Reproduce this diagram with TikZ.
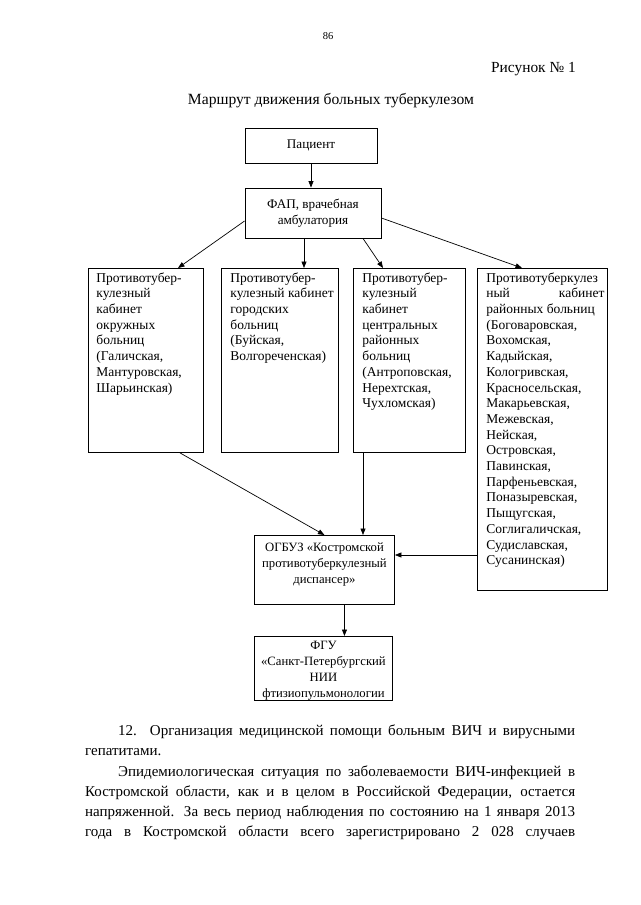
\documentclass[tikz,border=0pt]{standalone}
\usepackage{fontspec}
\setmainfont{Liberation Serif}
\usetikzlibrary{arrows.meta,calc}
\newcommand\celltext[5]{\makebox[#1][l]{\hspace*{#2}\parbox[t][#3][t]{#4}{\raggedright #5}}}
\tikzset{
  cell/.style={draw, line width=0.9pt, inner xsep=0pt, inner ysep=4pt, anchor=north west,
               font=\fontsize{13.5}{15.7}\selectfont},
  lowcell/.style={cell, font=\fontsize{12.7}{16}\selectfont},
  cbox/.style={draw, line width=0.9pt, align=center, inner sep=0pt,
               font=\fontsize{13.2}{15.7}\selectfont},
  conn/.style={line width=0.7pt, -{Triangle[length=6.5pt,width=5pt]}},
  body/.style={font=\fontsize{15}{20}\selectfont, anchor=base west, inner sep=0pt},
}
\begin{document}
\begin{tikzpicture}[x=1pt,y=-1pt]
\fill[white] (0,0) rectangle (640,905);
\useasboundingbox (0,0) rectangle (640,905);

% header
\node[font=\fontsize{10.5}{12}\selectfont, anchor=base, inner sep=0pt] (pg) at (328,39) {86};
\node[font=\fontsize{15.4}{18}\selectfont, anchor=base east, inner sep=0pt] (fig) at (576,72) {Рисунок № 1};
\node[font=\fontsize{15.6}{18}\selectfont, anchor=base, inner sep=0pt] (title) at (331,104) {Маршрут движения больных туберкулезом};

% top boxes
\node[cbox, minimum width=132pt, minimum height=35pt] (pac) at (311,145.5) {Пациент};
\node[cbox, minimum width=136pt, minimum height=50pt] (fap) at (313,213) {ФАП, врачебная\\амбулатория};

% row of cabinets
\node[cell] (b1) at (88,268) {\celltext{115pt}{8pt}{176pt}{140pt}{Противотубер-\\кулезный\\кабинет\\окружных\\больниц\\(Галичская,\\Мантуровская,\\Шарьинская)}};
\node[cell] (b2) at (221,268) {\celltext{117pt}{9pt}{176pt}{140pt}{Противотубер-\\кулезный кабинет\\городских\\больниц\\(Буйская,\\Волгореченская)}};
\node[cell] (b3) at (353,268) {\celltext{112pt}{9pt}{176pt}{140pt}{Противотубер-\\кулезный\\кабинет\\центральных\\районных\\больниц\\(Антроповская,\\Нерехтская,\\Чухломская)}};
\node[cell] (b4) at (477,268) {\celltext{130pt}{9pt}{314pt}{118pt}{Противотуберкулез\\ный\hfill кабинет\\районных больниц\\(Боговаровская,\\Вохомская,\\Кадыйская,\\Кологривская,\\Красносельская,\\Макарьевская,\\Межевская,\\Нейская,\\Островская,\\Павинская,\\Парфеньевская,\\Поназыревская,\\Пыщугская,\\Соглигаличская,\\Судиславская,\\Сусанинская)}};

% lower boxes
\node[lowcell, inner ysep=7pt] (og) at (254,535) {\parbox[t][55pt][t]{140pt}{\centering ОГБУЗ «Костромской\\противотуберкулезный\\диспансер»}};
\node[lowcell, inner ysep=5pt] (fgu) at (254,636) {\parbox[t][54pt][t]{138pt}{\centering ФГУ\\«Санкт-Петербургский\\НИИ\\фтизиопульмонологии}};

% connectors
\draw[conn] (pac.south) -- (pac.south |- fap.north);
\draw[conn] ($(fap.west)+(0,8)$) -- ($(b1.north west)+(90,0)$);
\draw[conn] ($(fap.south)+(-9,0)$) -- ($(b2.north west)+(83,0)$);
\draw[conn] ($(fap.south)+(50,0)$) -- ($(b3.north west)+(30,0)$);
\draw[conn] ($(fap.east)+(0,5)$) -- ($(b4.north west)+(45,0)$);
\draw[conn] ($(b1.south west)+(92,0)$) -- (og.north);
\draw[conn] ($(b3.south west)+(10,0)$) -- ($(og.north west)+(109,0)$);
\coordinate (b4l) at ($(b4.west |- og.north)+(0,20)$);
\draw[conn] (b4l) -- ($(og.north east)+(0,20)$);
\coordinate (ogs) at ($(og.south)+(20,0)$);
\draw[conn] (ogs) -- (ogs |- fgu.north);

% body text
\node[body] (l1) at (118,735) {\makebox[457pt][s]{12. Организация медицинской помощи больным ВИЧ и вирусными}};
\node[body] (l2) at (85,755) {гепатитами.};
\node[body] (l3) at (118,776) {\makebox[457pt][s]{Эпидемиологическая ситуация по заболеваемости ВИЧ-инфекцией в}};
\node[body] (l4) at (85,796) {\makebox[490pt][s]{Костромской области, как и в целом в Российской Федерации, остается}};
\node[body] (l5) at (85,816) {\makebox[490pt][s]{напряженной. За весь период наблюдения по состоянию на 1 января 2013}};
\node[body] (l6) at (85,836) {\makebox[490pt][s]{года в Костромской области всего зарегистрировано 2 028 случаев}};
\end{tikzpicture}
\end{document}
